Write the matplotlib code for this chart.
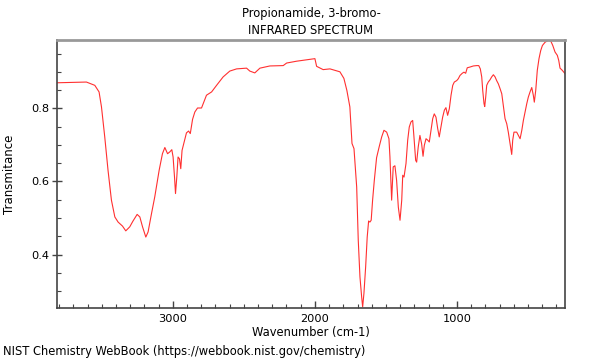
import matplotlib
matplotlib.use("Agg")
import matplotlib.pyplot as plt
from matplotlib.ticker import MultipleLocator

wavenumber = [3815, 3608, 3549, 3519, 3502, 3479, 3456, 3432, 3408, 3385, 3354, 3331, 3303, 3280,
              3251, 3232, 3213, 3190, 3174, 3150, 3127, 3096, 3073, 3056, 3037, 3021, 3007, 2998,
              2988, 2981, 2972, 2963, 2953, 2944, 2935, 2920, 2904, 2889, 2877, 2861, 2845, 2826,
              2798, 2782, 2763, 2727, 2692, 2646, 2599, 2551, 2481, 2458, 2423, 2387, 2317, 2223,
              2199, 2129, 2058, 2000, 1988, 1942, 1894, 1859, 1824, 1796, 1775, 1754, 1739, 1725,
              1706, 1695, 1683, 1671, 1664, 1655, 1643, 1632, 1622, 1613, 1604, 1594, 1582, 1566,
              1547, 1530, 1514, 1495, 1479, 1472, 1460, 1449, 1437, 1425, 1413, 1401, 1389, 1382,
              1373, 1359, 1347, 1336, 1324, 1312, 1303, 1291, 1284, 1273, 1261, 1249, 1239, 1230,
              1218, 1206, 1195, 1183, 1171, 1160, 1148, 1136, 1125, 1113, 1101, 1089, 1078, 1066,
              1054, 1042, 1030, 1019, 1002, 991, 979, 963, 951, 939, 928, 909, 885, 861, 847, 836,
              826, 819, 810, 805, 798, 791, 780, 768, 756, 744, 732, 721, 709, 697, 685, 674, 662,
              650, 639, 627, 615, 608, 599, 580, 568, 556, 544, 533, 521, 509, 498, 486, 474, 463,
              456, 446, 435, 423, 411, 399, 380, 357, 340, 326, 310, 294, 284, 275, 259, 240]
transmittance = [0.870, 0.872, 0.863, 0.845, 0.804, 0.722, 0.631, 0.549, 0.503, 0.489, 0.478, 0.465,
                 0.476, 0.492, 0.510, 0.503, 0.476, 0.448, 0.462, 0.512, 0.558, 0.631, 0.676, 0.693,
                 0.676, 0.681, 0.687, 0.667, 0.612, 0.567, 0.612, 0.667, 0.662, 0.635, 0.685, 0.708,
                 0.733, 0.738, 0.731, 0.770, 0.790, 0.801, 0.801, 0.817, 0.836, 0.845, 0.863, 0.886,
                 0.902, 0.908, 0.910, 0.902, 0.897, 0.910, 0.916, 0.917, 0.924, 0.929, 0.933, 0.936,
                 0.915, 0.906, 0.908, 0.904, 0.900, 0.882, 0.849, 0.804, 0.704, 0.690, 0.585, 0.440,
                 0.339, 0.284, 0.257, 0.294, 0.366, 0.448, 0.492, 0.489, 0.494, 0.549, 0.603, 0.665,
                 0.696, 0.722, 0.740, 0.735, 0.717, 0.667, 0.549, 0.640, 0.643, 0.603, 0.530, 0.494,
                 0.549, 0.617, 0.612, 0.649, 0.713, 0.749, 0.763, 0.767, 0.722, 0.658, 0.653, 0.694,
                 0.726, 0.703, 0.669, 0.699, 0.717, 0.713, 0.708, 0.740, 0.772, 0.785, 0.776, 0.745,
                 0.722, 0.749, 0.776, 0.795, 0.802, 0.781, 0.799, 0.836, 0.863, 0.872, 0.876, 0.881,
                 0.890, 0.896, 0.899, 0.896, 0.911, 0.913, 0.916, 0.917, 0.917, 0.908, 0.886, 0.849,
                 0.813, 0.805, 0.831, 0.863, 0.872, 0.878, 0.886, 0.892, 0.886, 0.876, 0.867, 0.854,
                 0.840, 0.808, 0.772, 0.758, 0.735, 0.704, 0.674, 0.713, 0.735, 0.735, 0.726, 0.717,
                 0.740, 0.767, 0.790, 0.813, 0.831, 0.845, 0.857, 0.836, 0.817, 0.849, 0.904, 0.936,
                 0.958, 0.972, 0.981, 0.986, 0.984, 0.972, 0.954, 0.945, 0.931, 0.910, 0.904, 0.895]

title_lines = ["Propionamide, 3-bromo-", "INFRARED SPECTRUM"]
x_label = "Wavenumber (cm-1)"
y_label = "Transmitance"
footer = "NIST Chemistry WebBook (https://webbook.nist.gov/chemistry)"

fig = plt.figure(figsize=(6, 3.6), dpi=100)
ax = fig.add_axes([57/600, 1-308/360, (565-57)/600, (308-40)/360])
ax.plot(wavenumber, transmittance, color="#ff3030", lw=0.8)
ax.set_xlim(3815, 240)
ax.set_ylim(0.254, 0.987)

ax.xaxis.set_major_locator(MultipleLocator(1000))
ax.xaxis.set_minor_locator(MultipleLocator(100))
ax.yaxis.set_major_locator(MultipleLocator(0.2))
ax.yaxis.set_minor_locator(MultipleLocator(0.05))
ax.tick_params(axis="x", which="major", direction="in", length=5, width=1, color="#444444",
               labelsize=8.2, pad=4)
ax.tick_params(axis="x", which="minor", direction="in", length=3, width=0.8, color="#444444")
ax.tick_params(axis="y", which="major", direction="inout", length=7, width=1, color="#444444",
               labelsize=8.2, pad=2)
ax.tick_params(axis="y", which="minor", direction="in", length=3, width=0.8, color="#444444")

for s in ["left", "right", "bottom"]:
    ax.spines[s].set_color("#444444")
    ax.spines[s].set_linewidth(1.2)
ax.spines["top"].set_color("#999999")
ax.spines["top"].set_linewidth(2)

ax.set_xlabel(x_label, fontsize=8.3, labelpad=2)
ax.set_ylabel(y_label, fontsize=8.5)
ax.yaxis.set_label_coords((16 - 57) / (565 - 57), 0.5)
fig.text(311/600, 1-13/360, title_lines[0], ha="center", va="center", fontsize=8.3)
fig.text(311/600, 1-30/360, title_lines[1], ha="center", va="center", fontsize=8.3)
fig.text(3/600, 1-352/360, footer, ha="left", va="center", fontsize=8.3)

fig.savefig("out.png", dpi=100)
